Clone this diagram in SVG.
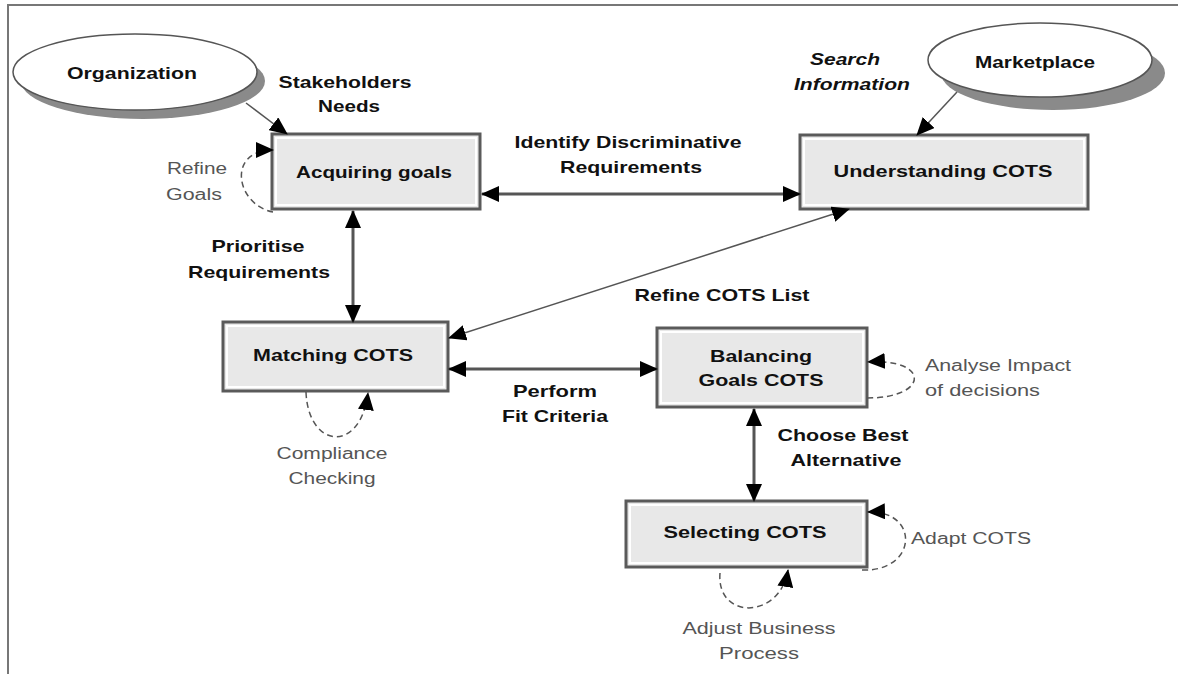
<svg xmlns="http://www.w3.org/2000/svg" width="1178" height="674" viewBox="0 0 1178 674">
<style>
  .box { fill: #e8e8e8; stroke: #5a5a5a; stroke-width: 3; }
  .hl { fill: none; stroke: #ffffff; stroke-width: 2; }
  .ell { fill: #ffffff; stroke: #555555; stroke-width: 1.5; }
  .shadow { fill: #8a8a8a; }
  .thick { stroke: #555555; stroke-width: 3; fill: none; }
  .thin { stroke: #555555; stroke-width: 1.5; fill: none; }
  .loop { stroke: #555555; stroke-width: 1.5; fill: none; stroke-dasharray: 6 4; }
  .b { font-family: "Liberation Sans", Arial, sans-serif; font-weight: bold; font-size: 17px; fill: #111111; text-anchor: middle; }
  .bi { font-family: "Liberation Sans", Arial, sans-serif; font-weight: bold; font-style: italic; font-size: 17px; fill: #111111; text-anchor: middle; }
  .g { font-family: "Liberation Sans", Arial, sans-serif; font-size: 16px; fill: #555555; }
  .gm { font-family: "Liberation Sans", Arial, sans-serif; font-size: 16px; fill: #555555; text-anchor: middle; }
  .frame { stroke: #777777; stroke-width: 2; fill: none; }
</style>
<defs>
  <marker id="ah" viewBox="0 0 18 16" refX="17" refY="8" markerWidth="18" markerHeight="16" markerUnits="userSpaceOnUse" orient="auto-start-reverse">
    <path d="M0,0 L18,8 L0,16 z" fill="#000000"/>
  </marker>
</defs>
<rect width="1178" height="674" fill="#ffffff"/>
<path class="frame" d="M8,674 L8,5 L1178,5"/>

<g id="organization">
  <ellipse class="shadow" cx="143" cy="81" rx="122" ry="38"/>
  <ellipse class="ell" cx="135" cy="72" rx="122" ry="38"/>
  <text class="b" x="132" y="79" textLength="130" lengthAdjust="spacingAndGlyphs">Organization</text>
</g>

<g id="marketplace">
  <ellipse class="shadow" cx="1053" cy="73" rx="112" ry="37"/>
  <ellipse class="ell" cx="1040" cy="60" rx="112" ry="37"/>
  <text class="b" x="1035" y="68" textLength="120" lengthAdjust="spacingAndGlyphs">Marketplace</text>
</g>

<g id="acquiring-goals">
  <rect class="box" x="272" y="134" width="208" height="75"/>
  <rect class="hl" x="276" y="138" width="200" height="67"/>
  <text class="b" x="374" y="178" textLength="156" lengthAdjust="spacingAndGlyphs">Acquiring goals</text>
</g>

<g id="understanding-cots">
  <rect class="box" x="800" y="135" width="288" height="74"/>
  <rect class="hl" x="804" y="139" width="280" height="66"/>
  <text class="b" x="943" y="177" textLength="219" lengthAdjust="spacingAndGlyphs">Understanding COTS</text>
</g>

<g id="matching-cots">
  <rect class="box" x="223" y="322" width="225" height="69"/>
  <rect class="hl" x="227" y="326" width="217" height="61"/>
  <text class="b" x="333" y="361" textLength="160" lengthAdjust="spacingAndGlyphs">Matching COTS</text>
</g>

<g id="balancing-goals-cots">
  <rect class="box" x="657" y="328" width="210" height="79"/>
  <rect class="hl" x="661" y="332" width="202" height="71"/>
  <text class="b" x="761" y="362" textLength="102" lengthAdjust="spacingAndGlyphs">Balancing</text>
  <text class="b" x="761" y="386" textLength="125" lengthAdjust="spacingAndGlyphs">Goals COTS</text>
</g>

<g id="selecting-cots">
  <rect class="box" x="626" y="501" width="241" height="66"/>
  <rect class="hl" x="630" y="505" width="233" height="58"/>
  <text class="b" x="745" y="538" textLength="163" lengthAdjust="spacingAndGlyphs">Selecting COTS</text>
</g>

<g id="connectors">
  <line class="thin" x1="246" y1="103" x2="287" y2="134" marker-end="url(#ah)"/>
  <line class="thin" x1="957" y1="92" x2="917" y2="135" marker-end="url(#ah)"/>
  <line class="thick" x1="482" y1="194" x2="800" y2="194" marker-start="url(#ah)" marker-end="url(#ah)"/>
  <line class="thick" x1="353" y1="211" x2="353" y2="322" marker-start="url(#ah)" marker-end="url(#ah)"/>
  <line class="thin" x1="849" y1="209" x2="449" y2="338" marker-start="url(#ah)" marker-end="url(#ah)"/>
  <line class="thick" x1="449" y1="369" x2="657" y2="369" marker-start="url(#ah)" marker-end="url(#ah)"/>
  <line class="thick" x1="754" y1="409" x2="754" y2="501" marker-start="url(#ah)" marker-end="url(#ah)"/>
  <path class="loop" d="M273,212 C236,205 226,150 273,150" marker-end="url(#ah)"/>
  <path class="loop" d="M306,392 C308,448 360,455 368,393" marker-end="url(#ah)"/>
  <path class="loop" d="M867,398 C930,398 930,358 868,362" marker-end="url(#ah)"/>
  <path class="loop" d="M862,570 C918,572 920,510 868,512" marker-end="url(#ah)"/>
  <path class="loop" d="M720,573 C716,620 780,620 788,570" marker-end="url(#ah)"/>
</g>

<g id="labels">
  <text class="b" x="345" y="88" textLength="133" lengthAdjust="spacingAndGlyphs">Stakeholders</text>
  <text class="b" x="349" y="112" textLength="62" lengthAdjust="spacingAndGlyphs">Needs</text>
  <text class="gm" x="197" y="174" textLength="60" lengthAdjust="spacingAndGlyphs">Refine</text>
  <text class="gm" x="194" y="200" textLength="56" lengthAdjust="spacingAndGlyphs">Goals</text>
  <text class="b" x="628" y="148" textLength="227" lengthAdjust="spacingAndGlyphs">Identify Discriminative</text>
  <text class="b" x="631" y="173" textLength="142" lengthAdjust="spacingAndGlyphs">Requirements</text>
  <text class="bi" x="845" y="65" textLength="70" lengthAdjust="spacingAndGlyphs">Search</text>
  <text class="bi" x="852" y="90" textLength="116" lengthAdjust="spacingAndGlyphs">Information</text>
  <text class="b" x="258" y="252" textLength="93" lengthAdjust="spacingAndGlyphs">Prioritise</text>
  <text class="b" x="259" y="278" textLength="142" lengthAdjust="spacingAndGlyphs">Requirements</text>
  <text class="b" x="722" y="301" textLength="175" lengthAdjust="spacingAndGlyphs">Refine COTS List</text>
  <text class="b" x="555" y="397" textLength="84" lengthAdjust="spacingAndGlyphs">Perform</text>
  <text class="b" x="555" y="422" textLength="106" lengthAdjust="spacingAndGlyphs">Fit Criteria</text>
  <text class="g" x="925" y="371" textLength="146" lengthAdjust="spacingAndGlyphs">Analyse Impact</text>
  <text class="g" x="925" y="396" textLength="115" lengthAdjust="spacingAndGlyphs">of decisions</text>
  <text class="b" x="843" y="441" textLength="131" lengthAdjust="spacingAndGlyphs">Choose Best</text>
  <text class="b" x="846" y="466" textLength="111" lengthAdjust="spacingAndGlyphs">Alternative</text>
  <text class="g" x="911" y="544" textLength="120" lengthAdjust="spacingAndGlyphs">Adapt COTS</text>
  <text class="gm" x="759" y="634" textLength="153" lengthAdjust="spacingAndGlyphs">Adjust Business</text>
  <text class="gm" x="759" y="659" textLength="80" lengthAdjust="spacingAndGlyphs">Process</text>
  <text class="gm" x="332" y="459" textLength="111" lengthAdjust="spacingAndGlyphs">Compliance</text>
  <text class="gm" x="332" y="484" textLength="87" lengthAdjust="spacingAndGlyphs">Checking</text>
</g>
</svg>
